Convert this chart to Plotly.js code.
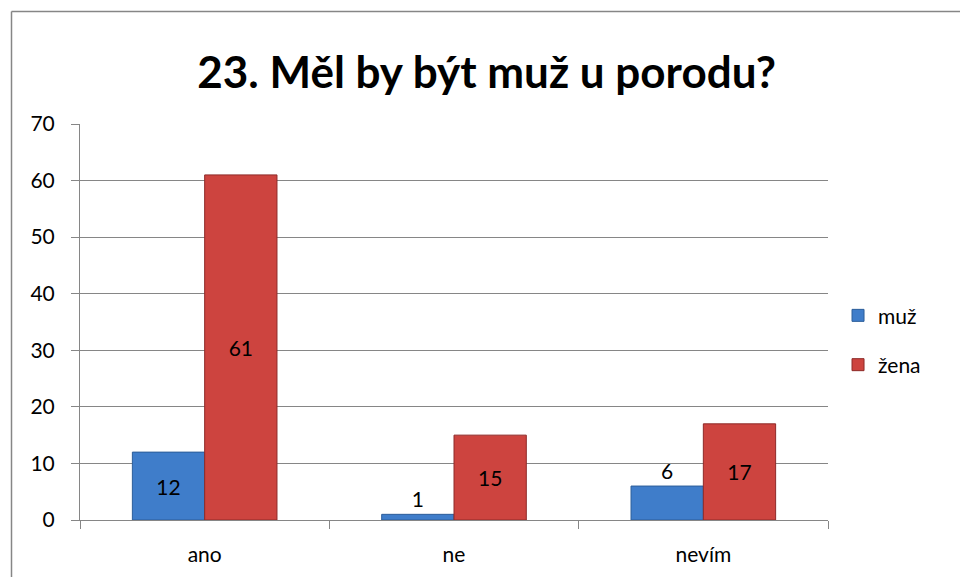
<!DOCTYPE html>
<html>
<head>
<meta charset="utf-8">
<script src="https://cdn.plot.ly/plotly-3.0.1.min.js"></script>
<style>html,body{margin:0;padding:0;background:#fff;}#chart{width:960px;height:577px;}</style>
</head>
<body>
<div id="chart"></div>
<script>
const categories = ["ano", "ne", "nevím"];
const seriesNames = ["muž", "žena"];
const muzValues = [12, 1, 6];
const zenaValues = [61, 15, 17];
const yTicks = [0, 10, 20, 30, 40, 50, 60, 70];
const titleText = "23. Měl by být muž u porodu?";

const font = "Lato, Carlito, 'Open Sans', sans-serif";
const fs = 21;

const traces = [
  {
    type: "bar", name: seriesNames[0], x: categories, y: muzValues,
    text: muzValues.map(String),
    textposition: ["inside", "outside", "outside"],
    insidetextanchor: "middle",
    textfont: {family: font, size: fs, color: "#000"},
    cliponaxis: false,
    marker: {color: "#3f7dca", line: {color: "#2c5d99", width: 1}},
    legendgroup: "a"
  },
  {
    type: "bar", name: seriesNames[1], x: categories, y: zenaValues,
    text: zenaValues.map(String),
    textposition: "inside",
    insidetextanchor: "middle",
    textfont: {family: font, size: fs, color: "#000"},
    cliponaxis: false,
    marker: {color: "#cd443f", line: {color: "#8e2a28", width: 1}},
    legendgroup: "b"
  }
];

const layout = {
  width: 960, height: 577,
  margin: {l: 80, r: 132, t: 124, b: 57},
  paper_bgcolor: "#fff", plot_bgcolor: "#fff",
  font: {family: font, size: fs, color: "#000"},
  title: {text: "<b>" + titleText + "</b>", font: {family: font, size: 44, color: "#000"},
          x: 0.507, xanchor: "center", y: 0.875, yanchor: "middle"},
  barmode: "group", bargap: 0.42, bargroupgap: 0,
  showlegend: true,
  legend: {x: 1.0134, xanchor: "left", y: 0.454, yanchor: "middle",
           font: {family: font, size: fs, color: "#000"},
           tracegroupgap: 19, itemwidth: 30, bgcolor: "rgba(0,0,0,0)"},
  xaxis: {type: "category", showline: true, linecolor: "#868686", linewidth: 1,
          ticks: "outside", tickson: "boundaries", ticklen: 8, tickcolor: "#868686",
          ticklabelstandoff: 16,
          tickfont: {family: font, size: fs}, showgrid: false, fixedrange: true},
  yaxis: {range: [0, 70], tickvals: yTicks, showline: true, linecolor: "#868686", linewidth: 1,
          ticks: "outside", ticklen: 8, tickcolor: "#868686",
          ticklabelstandoff: 12,
          gridcolor: "#868686", gridwidth: 1, zeroline: false,
          tickfont: {family: font, size: fs}, fixedrange: true},
  shapes: [
    {type: "line", xref: "paper", yref: "paper",
     x0: (11.5 - 80) / 748, x1: (11.5 - 80) / 748, y0: -0.5, y1: 1 + (124 - 11.5) / 396,
     line: {color: "#868686", width: 1.5}, layer: "below"},
    {type: "line", xref: "paper", yref: "paper",
     x0: (11.5 - 80) / 748, x1: 1.5, y0: 1 + (124 - 11.5) / 396, y1: 1 + (124 - 11.5) / 396,
     line: {color: "#868686", width: 1.5}, layer: "below"}
  ]
};

Plotly.newPlot("chart", traces, layout, {displayModeBar: false, staticPlot: true});
</script>
</body>
</html>
